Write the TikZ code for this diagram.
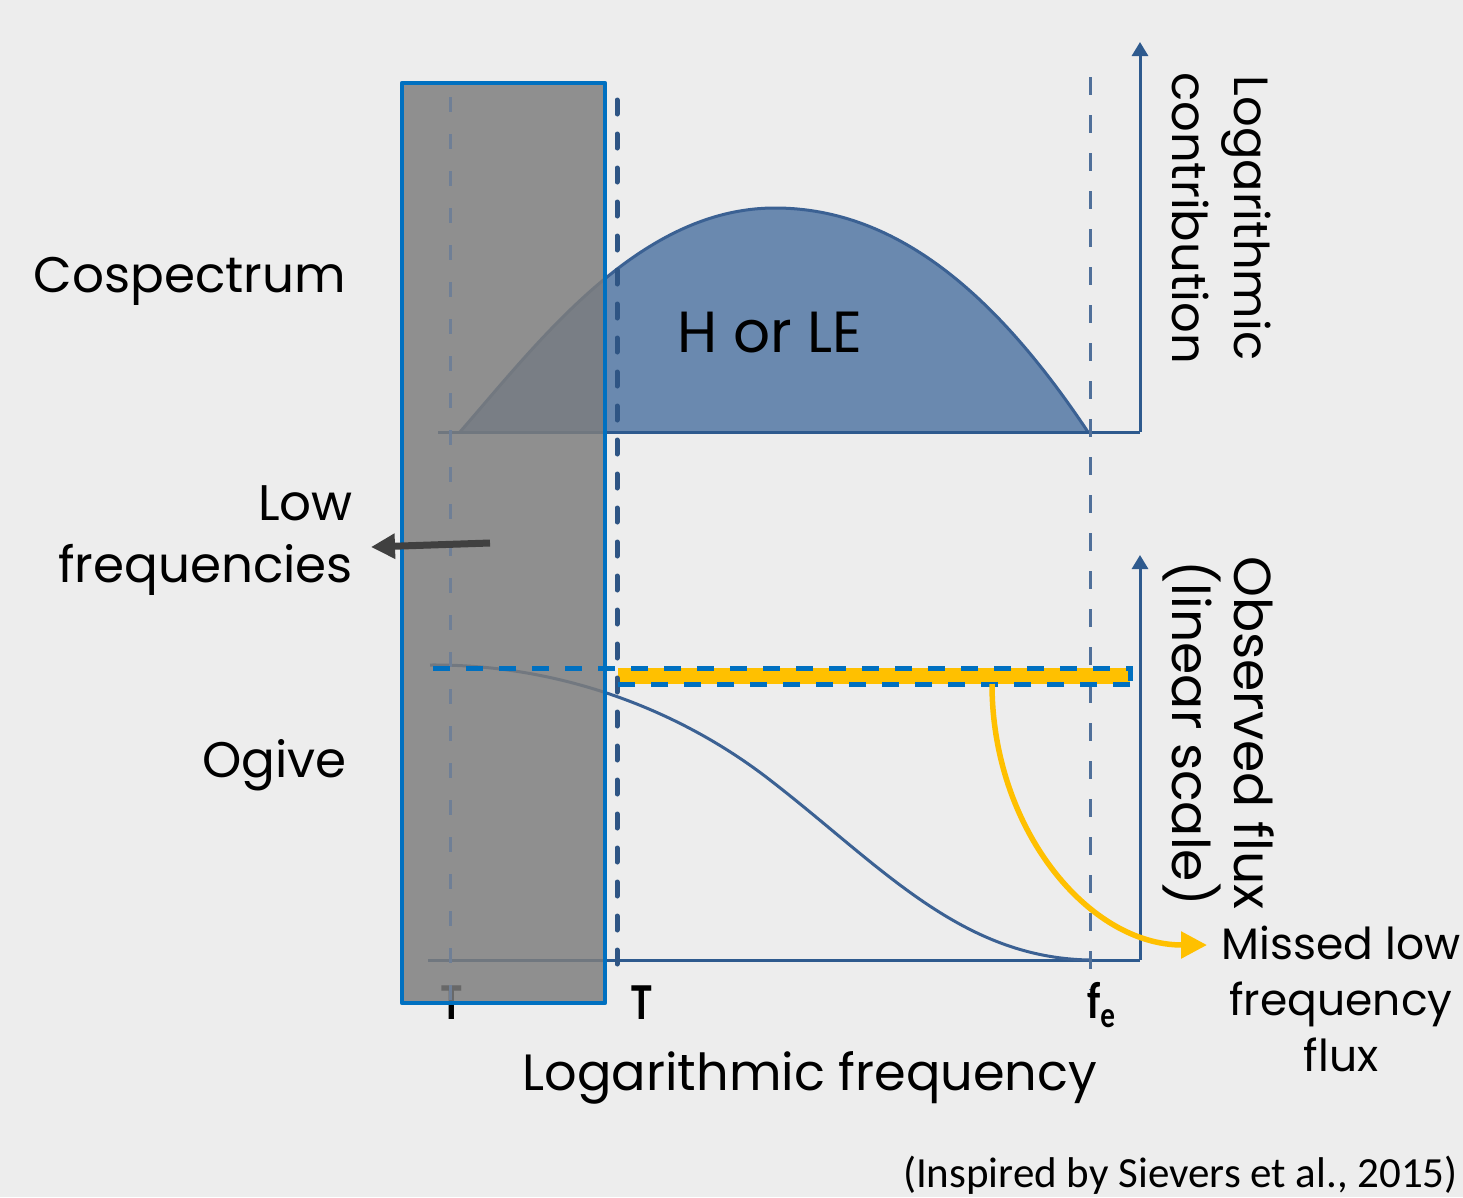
\documentclass[tikz,border=0pt]{standalone}
\usepackage{fontspec}
\setmainfont{Poppins}
\newfontfamily\calib{Carlito}
\usetikzlibrary{arrows.meta}
\definecolor{bgc}{HTML}{EDEDED}
\definecolor{rectgray}{HTML}{7D7D7D}
\definecolor{rectblue}{HTML}{0070C0}
\definecolor{axisblue}{HTML}{2E5A8E}
\definecolor{cofill}{HTML}{6A89AF}
\definecolor{coline}{HTML}{3B6193}
\definecolor{dashdark}{HTML}{2F5584}
\definecolor{dashmid}{HTML}{50709A}
\definecolor{dashlight}{HTML}{6F7F96}
\definecolor{yel}{HTML}{FFC000}
\definecolor{darkarrow}{HTML}{404040}
\tikzset{
  bigtxt/.style={font=\fontsize{50}{62}\selectfont, inner sep=0pt, text=black},
  midtxt/.style={font=\fontsize{44}{56}\selectfont, inner sep=0pt, text=black},
  boldlbl/.style={font=\calib\bfseries\fontsize{52}{56}\selectfont, inner sep=0pt, xscale=0.8},
  axisline/.style={draw=axisblue, line width=3pt},
  axisarrow/.style={axisline, -{Triangle[length=14pt,width=16pt]}},
}
\begin{document}
\begin{tikzpicture}[x=1pt,y=-1pt]
\fill[bgc] (0,0) rectangle (1463,1197);
\useasboundingbox (0,0) rectangle (1463,1197);

% coordinates
\coordinate (c0) at (460,432);
\coordinate (cpk) at (775,208);
\coordinate (c1) at (1088,432);
\coordinate (ax1o) at (1140,432);
\coordinate (ax1t) at (1140,42);
\coordinate (ax1s) at (438,432);
\coordinate (ax2o) at (1140,960);
\coordinate (ax2t) at (1140,555);
\coordinate (ax2s) at (428,960);

% cospectrum
\fill[cofill] (c0) .. controls (540,340) and (640,208) .. (cpk)
  .. controls (900,208) and (1000,300) .. (c1) -- cycle;
\draw[coline, line width=3pt] (c0) .. controls (540,340) and (640,208) .. (cpk)
  .. controls (900,208) and (1000,300) .. (c1);

% axes
\draw[axisline] (ax1s) -- (ax1o);
\draw[axisarrow] (ax1o) -- (ax1t);
\draw[axisline] (ax2s) -- (ax2o);
\draw[axisarrow] (ax2o) -- (ax2t);

% ogive
\coordinate (o0) at (430,665);
\coordinate (om) at (770,780);
\coordinate (o1) at (1090,960);
\draw[coline, line width=3pt] (o0) .. controls (560,664) and (680,710) .. (om)
  .. controls (880,865) and (960,958) .. (o1);

% yellow bar
\coordinate (yb0) at (618,668);
\coordinate (yb1) at (1130,684);
\fill[yel] (yb0) rectangle (yb1);

% dark T under the rectangle
\node[boldlbl, anchor=base] (tleft) at (452,1019) {T};

% grey rectangle
\fill[rectgray, opacity=0.84] (402,83) rectangle (605,1003);
\draw[rectblue, line width=4.5pt, line join=round] (402,83) rectangle (605,1003);

% dashed verticals
\draw[dashlight, line width=3pt, dash pattern=on 15pt off 22pt] (450,97) -- (450,1000);
\draw[dashdark, line width=5pt, line cap=round, dash pattern=on 14pt off 20pt] (617,100) -- (617,978);
\draw[dashmid, line width=3pt, dash pattern=on 18pt off 20pt] (1090,77) -- (1090,990);

% blue dashed outline of the observed flux
\draw[rectblue, line width=5pt, dash pattern=on 17pt off 16pt] (433,668) -- (1130,668) -- (1130,684);
\draw[rectblue, line width=5pt, dash pattern=on 17pt off 16pt] (1130,684) -- (618,684);

% yellow curved arrow
\coordinate (ya0) at (992,684);
\coordinate (ya1) at (1207,945);
\draw[yel, line width=5.5pt, -{Triangle[length=26pt,width=26pt]}] (ya0) .. controls (992,828) and (1088,945) .. (ya1);

% texts
\node[bigtxt, anchor=base east] (cosp) at (346,292) {Cospectrum};
\node[bigtxt, anchor=east, align=right] (lowf) at (353,541) {Low\\frequencies};
\node[bigtxt, anchor=base east] (ogive) at (347,777) {Ogive};
\node[bigtxt, font=\fontsize{58}{62}\selectfont, anchor=base] (horle) at (770,352) {H or LE};
\node[bigtxt, font=\fontsize{51}{62}\selectfont, anchor=base] (logf) at (810,1090) {Logarithmic frequency};
\node[bigtxt, font=\fontsize{48}{62}\selectfont, rotate=-90, align=center] (logc) at (1222,218) {Logarithmic\\contribution};
\node[bigtxt, font=\fontsize{52}{62}\selectfont, rotate=-90, align=center] (obsf) at (1219,733) {Observed flux\\(linear scale)};
\node[midtxt, align=center] (missed) at (1341,999) {Missed low\\frequency\\flux};
\node[boldlbl, anchor=base] (tright) at (642,1019) {T};
\node[boldlbl, anchor=base west] (fe) at (1087,1018) {f\textsubscript{e}};
\node[font=\calib\fontsize{43}{48}\selectfont, inner sep=0pt, anchor=base east] (cite) at (1458,1187) {(Inspired by Sievers et al., 2015)};

% low frequencies arrow
\coordinate (lfa) at (490,543);
\coordinate (lfb) at (371,547);
\draw[darkarrow, line width=7pt, -{Triangle[length=24pt,width=24pt]}] (lfa) -- (lfb);
\end{tikzpicture}
\end{document}
